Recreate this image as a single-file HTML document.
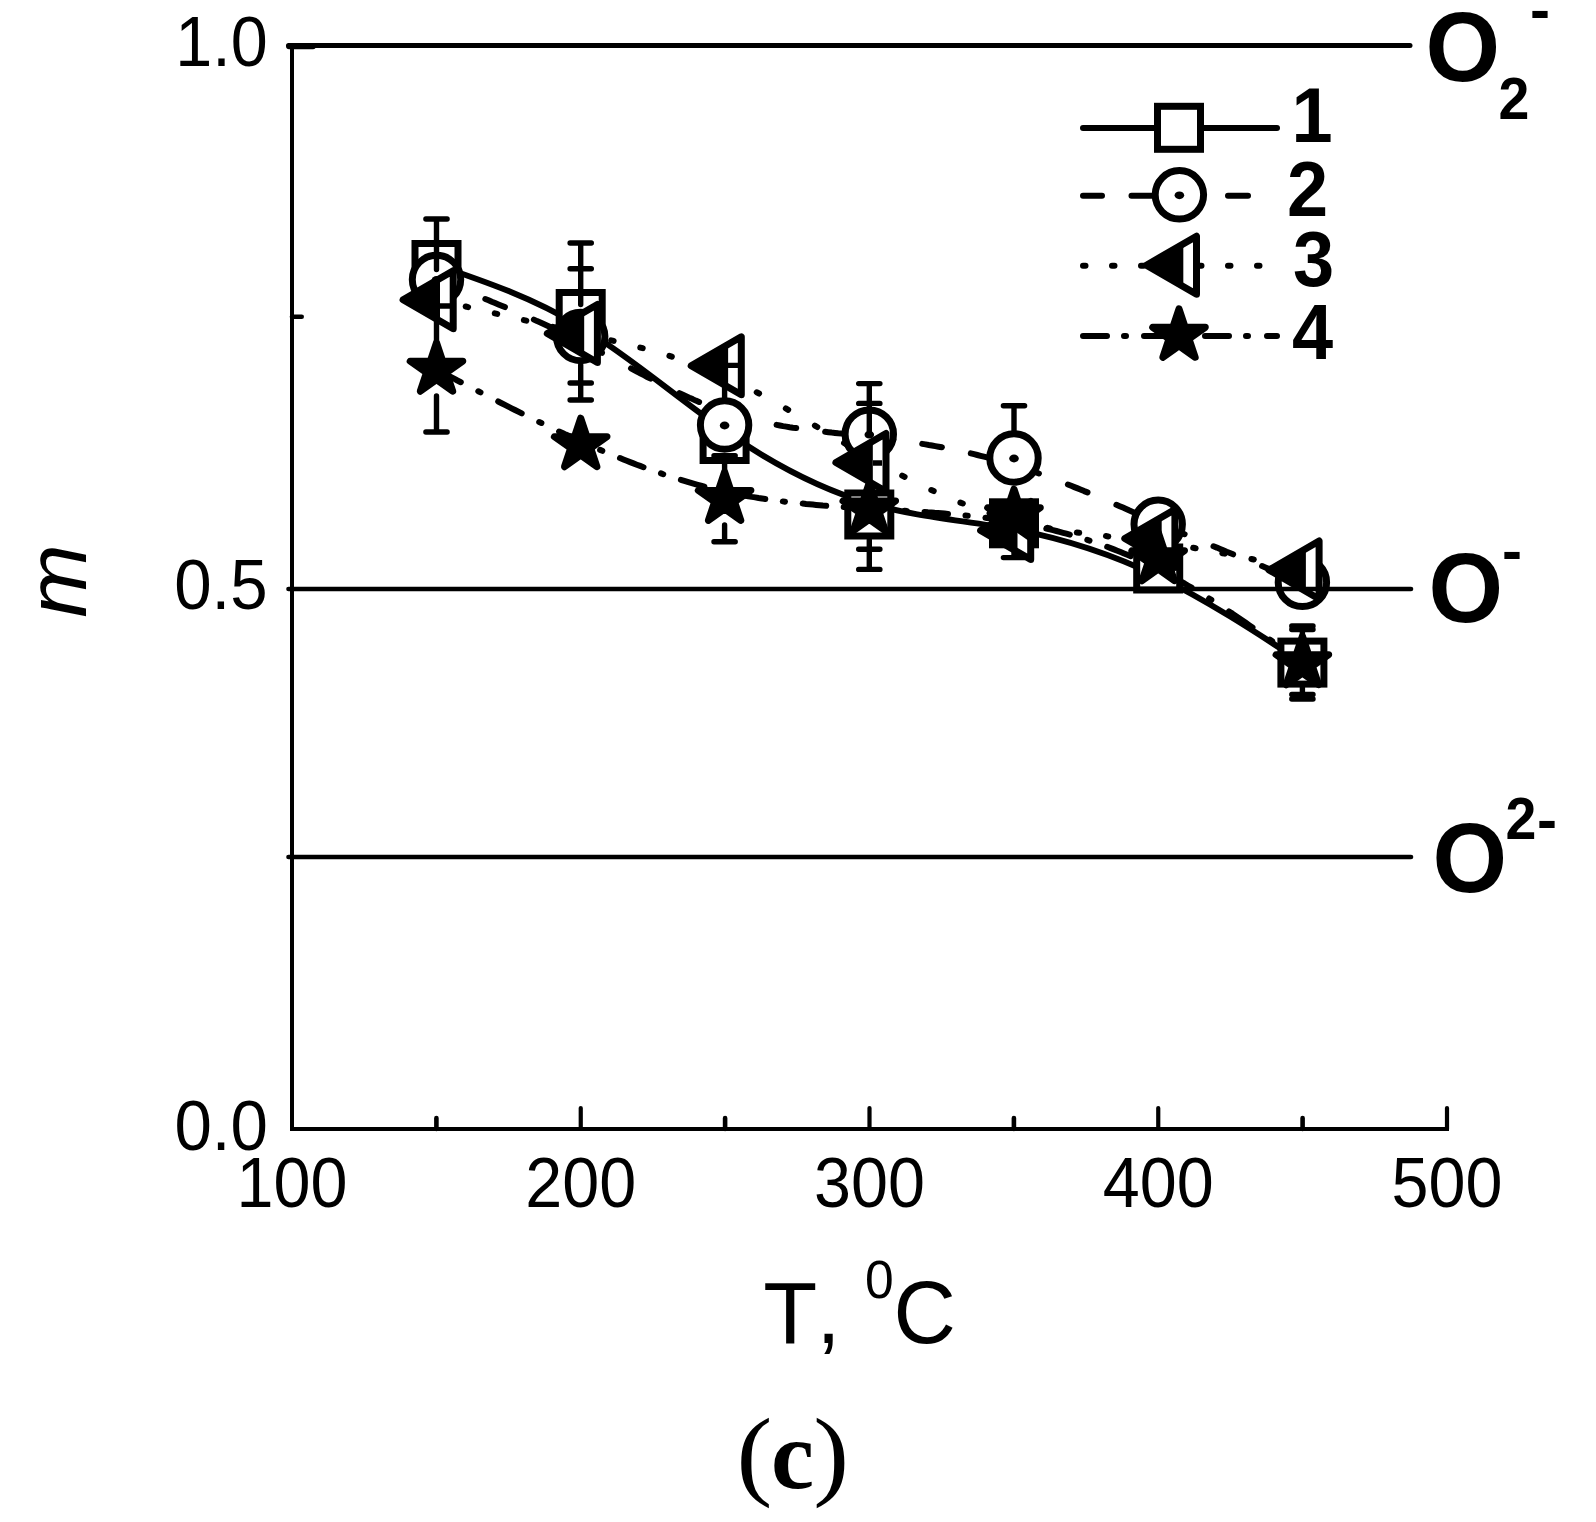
<!DOCTYPE html>
<html lang="en"><head><meta charset="utf-8"><title>m vs T (c)</title>
<style>html,body{margin:0;padding:0;background:#fff}svg{display:block}text{fill:#000}.s{font-family:"Liberation Sans",Arial,Helvetica,sans-serif}.r{font-family:"Liberation Serif","Times New Roman",Times,serif}</style></head><body>
<svg width="1596" height="1522" viewBox="0 0 1596 1522">
<rect width="1596" height="1522" fill="#fff"/>
<g fill="none" stroke="#000">
<path d="M292 45.5 V1131" stroke-width="4"/>
<path d="M290 1129 H1449" stroke-width="4"/>
<path d="M288.5 45.5 H1410" stroke-width="5" stroke-linecap="round"/>
<path d="M288.5 857 H1411" stroke-width="4.6" stroke-linecap="round"/>
<path d="M289 46.5 H313" stroke-width="5.6" stroke-linecap="round"/>
<path d="M292 316.8 H301.7" stroke-width="4.6" stroke-linecap="round"/>
<path d="M580.75 1129 V1108" stroke-width="4.2" stroke-linecap="round"/>
<path d="M869.50 1129 V1108" stroke-width="4.2" stroke-linecap="round"/>
<path d="M1158.25 1129 V1108" stroke-width="4.2" stroke-linecap="round"/>
<path d="M1447.00 1129 V1108" stroke-width="4.2" stroke-linecap="round"/>
<path d="M436.40 1129 V1118" stroke-width="4.6" stroke-linecap="round"/>
<path d="M725.10 1129 V1118" stroke-width="4.6" stroke-linecap="round"/>
<path d="M1013.90 1129 V1118" stroke-width="4.6" stroke-linecap="round"/>
<path d="M1302.60 1129 V1118" stroke-width="4.6" stroke-linecap="round"/>
</g>
<g class="s">
<text transform="translate(267.8 66.0) scale(0.950 1)" font-size="70.0" text-anchor="end">1.0</text>
<text transform="translate(267.6 608.6) scale(0.960 1)" font-size="70.0" text-anchor="end">0.5</text>
<text transform="translate(267.8 1149.6) scale(0.960 1)" font-size="70.0" text-anchor="end">0.0</text>
<text transform="translate(292.0 1206.5) scale(0.950 1)" font-size="70.0" text-anchor="middle">100</text>
<text transform="translate(580.8 1206.5) scale(0.950 1)" font-size="70.0" text-anchor="middle">200</text>
<text transform="translate(869.5 1206.5) scale(0.950 1)" font-size="70.0" text-anchor="middle">300</text>
<text transform="translate(1158.2 1206.5) scale(0.950 1)" font-size="70.0" text-anchor="middle">400</text>
<text transform="translate(1447.0 1206.5) scale(0.950 1)" font-size="70.0" text-anchor="middle">500</text>
</g>
<text class="s" font-size="85.4" font-style="italic" text-anchor="middle" transform="translate(86 581) rotate(-90) scale(1.035 1)">m</text>
<text class="s" font-size="86.2" style="font-kerning:none"><tspan x="763.2" y="1343" textLength="53.97" lengthAdjust="spacingAndGlyphs">T</tspan><tspan x="816.5" y="1343">,</tspan><tspan x="841" y="1343"> </tspan><tspan x="865" y="1298" font-size="54.3" textLength="28.69" lengthAdjust="spacingAndGlyphs">0</tspan><tspan x="893.5" y="1343" font-size="88.6" textLength="62.39" lengthAdjust="spacingAndGlyphs">C</tspan></text>
<text class="r" font-size="99.6"><tspan x="736.5" y="1487.3" textLength="35.82" lengthAdjust="spacingAndGlyphs">(</tspan><tspan x="771" y="1488" font-size="97" font-weight="bold">c</tspan><tspan x="813.3" y="1487.3" textLength="35.82" lengthAdjust="spacingAndGlyphs">)</tspan></text>
<g class="s" font-weight="bold">
<text><tspan x="1425.5" y="81.0" font-size="97.4" textLength="74.60" lengthAdjust="spacingAndGlyphs">O</tspan><tspan x="1498.5" y="119.0" font-size="58.4" textLength="30.87" lengthAdjust="spacingAndGlyphs">2</tspan><tspan x="1530.0" y="30.0" font-size="58.4" textLength="20.04" lengthAdjust="spacingAndGlyphs">-</tspan></text>
<text><tspan x="1428.6" y="622.0" font-size="97.4" textLength="74.60" lengthAdjust="spacingAndGlyphs">O</tspan><tspan x="1502.0" y="570.5" font-size="58.4" textLength="20.04" lengthAdjust="spacingAndGlyphs">-</tspan></text>
<text><tspan x="1432.5" y="892.0" font-size="97.4" textLength="74.60" lengthAdjust="spacingAndGlyphs">O</tspan><tspan x="1505.5" y="839.0" font-size="58.4" textLength="30.87" lengthAdjust="spacingAndGlyphs">2</tspan><tspan x="1537.0" y="839.8" font-size="58.4" textLength="20.04" lengthAdjust="spacingAndGlyphs">-</tspan></text>
</g>
<g fill="none" stroke="#000" stroke-width="6" stroke-linecap="round">
<path d="M1083 128 H1277"/>
<path d="M1083 195.7 H1102 M1131.5 195.7 H1152 M1228 195.7 H1248"/>
<path d="M1083 265.7 h2.5 M1112 265.7 h2.5 M1141 265.7 h2.5 M1199 265.7 h2.5 M1228 265.7 h2.5 M1257 265.7 h2.5"/>
<path d="M1083 336 H1107 M1124 336 h2 M1144 336 H1168 M1205 336 H1229 M1246 336 h2 M1267 336 H1277"/>
</g>
<rect x="1157.5" y="106.3" width="43" height="43" fill="#fff" stroke="#000" stroke-width="7"/>
<circle cx="1179.4" cy="194.8" r="24.2" fill="#fff" stroke="#000" stroke-width="7"/><ellipse cx="1179.4" cy="195.3" rx="4.8" ry="3.9" fill="#000"/>
<path d="M1146.4 265.2 L1196.5 236.2 L1196.5 294.2 Z" fill="#fff" stroke="#000" stroke-width="7" stroke-linejoin="round"/><path d="M1146.4 265.2 L1183.3 243.8 L1183.3 286.6 Z" fill="#000"/>
<path d="M1179.0 308.8 L1185.2 327.3 L1205.3 327.3 L1189.0 338.8 L1195.2 357.3 L1179.0 345.8 L1162.8 357.3 L1169.0 338.8 L1152.7 327.3 L1172.8 327.3 Z" fill="#000" stroke="#000" stroke-width="7" stroke-linejoin="round"/>
<g class="s" font-weight="bold">
<text transform="translate(1291.5 142.0) scale(0.950 1)" font-size="77.9" text-anchor="start">1</text>
<text transform="translate(1287.0 216.0) scale(0.950 1)" font-size="77.9" text-anchor="start">2</text>
<text transform="translate(1293.0 285.5) scale(0.950 1)" font-size="77.9" text-anchor="start">3</text>
<text transform="translate(1292.0 358.7) scale(0.950 1)" font-size="77.9" text-anchor="start">4</text>
</g>
<g fill="none" stroke="#000" stroke-width="6" stroke-linecap="round" stroke-linejoin="round">
<path d="M436.5 265.0 C484.6 281.3 532.6 297.7 580.6 326.7 C628.7 355.7 676.6 397.3 724.7 430.8 C772.8 464.2 821.1 489.3 869.3 503.4 C917.5 517.4 965.8 520.4 1013.9 529.4 C1062.1 538.4 1110.1 553.4 1158.2 576.6 C1206.3 599.9 1254.3 631.2 1302.4 662.6"/>
<path d="M436.8 279.6 L440.0 280.9 L443.3 282.2 L446.6 283.5 L449.8 284.8 L453.1 286.1 L456.4 287.4M485.3 299.0 L488.6 300.3 L491.8 301.7 L495.1 303.0 L498.4 304.4 L501.6 305.7 L504.9 307.1M533.9 319.6 L537.1 321.1 L540.4 322.5 L543.7 324.0 L546.9 325.5 L550.2 327.0 L553.5 328.5M582.4 342.6 L585.7 344.3 L588.9 346.0 L592.2 347.7 L595.5 349.4 L598.7 351.1 L602.0 352.8M631.0 368.3 L634.2 370.0 L637.5 371.8 L640.8 373.5 L644.0 375.2 L647.3 377.0 L650.6 378.7M679.5 393.1 L682.8 394.7 L686.0 396.2 L689.3 397.7 L692.6 399.1 L695.8 400.6 L699.1 402.0M728.0 412.9 L731.3 414.0 L734.6 415.0 L737.8 415.9 L741.1 416.9 L744.4 417.8 L747.6 418.6M776.6 424.9 L779.9 425.5 L783.1 426.1 L786.4 426.6 L789.7 427.2 L792.9 427.7 L796.2 428.1M825.1 431.8 L828.4 432.2 L831.7 432.6 L835.0 432.9 L838.2 433.3 L841.5 433.6 L844.8 434.0M873.7 437.1 L877.0 437.5 L880.2 437.9 L883.5 438.3 L886.8 438.7 L890.0 439.2 L893.3 439.6M922.2 443.9 L925.5 444.4 L928.8 445.0 L932.0 445.5 L935.3 446.1 L938.6 446.7 L941.9 447.3M970.8 453.4 L974.1 454.2 L977.3 455.0 L980.6 455.8 L983.9 456.6 L987.1 457.4 L990.4 458.3M1019.3 466.8 L1022.6 467.8 L1025.9 468.9 L1029.1 470.0 L1032.4 471.2 L1035.7 472.3 L1038.9 473.5M1067.9 484.5 L1071.2 485.8 L1074.4 487.1 L1077.7 488.4 L1081.0 489.7 L1084.2 491.1 L1087.5 492.4M1116.4 504.8 L1119.7 506.2 L1123.0 507.6 L1126.2 509.0 L1129.5 510.5 L1132.8 511.9 L1136.0 513.3M1165.0 525.9 L1168.3 527.3 L1171.5 528.7 L1174.8 530.0 L1178.1 531.4 L1181.3 532.8 L1184.6 534.2M1213.5 546.3 L1216.8 547.6 L1220.1 549.0 L1223.3 550.3 L1226.6 551.7 L1229.9 553.0 L1233.1 554.3M1262.1 566.1 L1265.4 567.5 L1268.6 568.8 L1271.9 570.1 L1275.2 571.4 L1278.4 572.7 L1281.7 574.1"/>
<path d="M436.6 299.7 L439.0 300.3M465.7 306.5 L468.1 307.1M494.8 313.3 L497.2 313.9M523.9 320.1 L526.3 320.7M553.0 326.9 L555.4 327.4M582.1 333.6 L584.5 334.1M611.2 340.3 L613.6 340.9M640.3 347.6 L642.7 348.2M669.4 355.9 L671.8 356.7M698.5 365.8 L700.9 366.7M727.6 377.9 L730.0 379.0M756.7 392.3 L759.1 393.5M785.8 408.4 L788.2 409.8M814.9 425.6 L817.3 427.0M844.0 443.0 L846.4 444.4M873.1 459.9 L875.5 461.2M902.2 475.6 L904.6 476.9M931.3 490.0 L933.7 491.1M960.4 502.6 L962.8 503.5M989.5 513.2 L991.9 514.0M1018.6 521.7 L1021.0 522.3M1047.7 527.9 L1050.1 528.4M1076.8 532.5 L1079.2 532.8M1105.9 536.1 L1108.3 536.4M1135.0 539.5 L1137.4 539.8M1164.1 543.2 L1166.5 543.6M1193.2 547.8 L1195.6 548.3M1222.3 553.2 L1224.7 553.6M1251.4 559.0 L1253.8 559.5M1280.5 565.2 L1282.9 565.7"/>
<path d="M437.3 369.9 L440.7 371.7 L444.0 373.4 L447.4 375.2 L450.7 376.9 L454.1 378.7 L457.4 380.5 L460.8 382.2M478.3 391.3 L480.5 392.4M498.2 401.5 L501.6 403.2 L504.9 404.9 L508.3 406.6 L511.6 408.3 L515.0 410.0 L518.3 411.7 L521.7 413.4M539.2 422.0 L541.4 423.0M559.1 431.5 L562.5 433.0 L565.8 434.6 L569.2 436.1 L572.5 437.7 L575.9 439.2 L579.2 440.7 L582.6 442.2M600.1 449.9 L602.3 450.8M620.0 458.1 L623.4 459.5 L626.7 460.8 L630.1 462.1 L633.4 463.4 L636.8 464.7 L640.1 465.9 L643.5 467.2M661.0 473.4 L663.2 474.2M680.9 479.9 L684.3 480.9 L687.6 481.9 L691.0 482.9 L694.3 483.8 L697.7 484.8 L701.0 485.7 L704.4 486.6M721.9 490.9 L724.1 491.4M741.8 495.0 L745.2 495.7 L748.5 496.3 L751.9 496.9 L755.2 497.4 L758.6 498.0 L761.9 498.5 L765.3 499.0M782.8 501.4 L785.0 501.7M802.7 503.6 L806.1 504.0 L809.4 504.3 L812.8 504.6 L816.1 504.9 L819.5 505.2 L822.8 505.5 L826.2 505.7M843.7 507.0 L845.9 507.2M863.6 508.3 L867.0 508.5 L870.3 508.7 L873.7 508.9 L877.0 509.1 L880.4 509.3 L883.7 509.5 L887.1 509.7M904.6 510.7 L906.8 510.9M924.5 512.0 L927.9 512.3 L931.2 512.5 L934.6 512.8 L937.9 513.0 L941.3 513.3 L944.6 513.6 L948.0 513.9M965.5 515.5 L967.7 515.7M985.4 517.8 L988.8 518.2 L992.1 518.7 L995.5 519.2 L998.8 519.6 L1002.2 520.1 L1005.5 520.7 L1008.9 521.2M1026.4 524.3 L1028.6 524.8M1046.3 528.6 L1049.7 529.4 L1053.0 530.2 L1056.4 531.0 L1059.7 531.9 L1063.1 532.8 L1066.4 533.7 L1069.8 534.6M1087.3 539.9 L1089.5 540.6M1107.2 546.8 L1110.6 548.1 L1113.9 549.4 L1117.3 550.7 L1120.6 552.0 L1124.0 553.4 L1127.3 554.8 L1130.7 556.2M1148.2 564.2 L1150.4 565.3M1168.1 574.4 L1171.5 576.2 L1174.8 578.0 L1178.2 579.9 L1181.5 581.8 L1184.9 583.7 L1188.2 585.7 L1191.6 587.7M1209.1 598.5 L1211.3 599.9M1229.0 611.4 L1232.4 613.6 L1235.7 615.9 L1239.1 618.2 L1242.4 620.5 L1245.8 622.8 L1249.1 625.1 L1252.5 627.4M1270.0 639.7 L1272.2 641.3M1289.9 654.0 L1293.0 656.2 L1296.2 658.5 L1299.3 660.7 L1302.4 663.0"/>
</g>
<path d="M436.5 306.0 V345.0" fill="none" stroke="#000" stroke-width="5.4" stroke-linecap="round"/>
<path d="M724.6 385.0 V470.0" fill="none" stroke="#000" stroke-width="5.4" stroke-linecap="round"/>
<rect x="415.0" y="243.5" width="43" height="43" fill="#fff" stroke="#000" stroke-width="7"/>
<rect x="559.2" y="292.5" width="43" height="43" fill="#fff" stroke="#000" stroke-width="7"/>
<rect x="703.1" y="417.5" width="43" height="43" fill="#fff" stroke="#000" stroke-width="7"/>
<rect x="847.8" y="493.0" width="43" height="43" fill="#fff" stroke="#000" stroke-width="7"/>
<rect x="992.5" y="501.8" width="43" height="43" fill="#fff" stroke="#000" stroke-width="7"/>
<rect x="1136.7" y="547.0" width="43" height="43" fill="#fff" stroke="#000" stroke-width="7"/>
<rect x="1280.9" y="641.1" width="43" height="43" fill="#fff" stroke="#000" stroke-width="7"/>
<circle cx="436.5" cy="279.5" r="24.2" fill="#fff" stroke="#000" stroke-width="7"/><ellipse cx="436.5" cy="280.0" rx="4.8" ry="3.9" fill="#000"/>
<circle cx="580.7" cy="336.5" r="24.2" fill="#fff" stroke="#000" stroke-width="7"/><ellipse cx="580.7" cy="337.0" rx="4.8" ry="3.9" fill="#000"/>
<circle cx="724.6" cy="425.0" r="24.2" fill="#fff" stroke="#000" stroke-width="7"/><ellipse cx="724.6" cy="425.5" rx="4.8" ry="3.9" fill="#000"/>
<circle cx="869.3" cy="434.2" r="24.2" fill="#fff" stroke="#000" stroke-width="7"/><ellipse cx="869.3" cy="434.7" rx="4.8" ry="3.9" fill="#000"/>
<circle cx="1014.0" cy="458.0" r="24.2" fill="#fff" stroke="#000" stroke-width="7"/><ellipse cx="1014.0" cy="458.5" rx="4.8" ry="3.9" fill="#000"/>
<circle cx="1158.2" cy="524.3" r="24.2" fill="#fff" stroke="#000" stroke-width="7"/><ellipse cx="1158.2" cy="524.8" rx="4.8" ry="3.9" fill="#000"/>
<circle cx="1302.4" cy="582.4" r="24.2" fill="#fff" stroke="#000" stroke-width="7"/><ellipse cx="1302.4" cy="582.9" rx="4.8" ry="3.9" fill="#000"/>
<path d="M403.1 299.7 L453.2 270.7 L453.2 328.7 Z" fill="#fff" stroke="#000" stroke-width="7" stroke-linejoin="round"/><path d="M403.1 299.7 L440.0 278.3 L440.0 321.1 Z" fill="#000"/>
<path d="M547.3 333.5 L597.4 304.5 L597.4 362.5 Z" fill="#fff" stroke="#000" stroke-width="7" stroke-linejoin="round"/><path d="M547.3 333.5 L584.2 312.1 L584.2 354.9 Z" fill="#000"/>
<path d="M691.2 365.8 L741.3 336.8 L741.3 394.8 Z" fill="#fff" stroke="#000" stroke-width="7" stroke-linejoin="round"/><path d="M691.2 365.8 L728.1 344.4 L728.1 387.2 Z" fill="#000"/>
<path d="M835.9 462.5 L886.0 433.5 L886.0 491.5 Z" fill="#fff" stroke="#000" stroke-width="7" stroke-linejoin="round"/><path d="M835.9 462.5 L872.8 441.1 L872.8 483.9 Z" fill="#000"/>
<path d="M980.6 530.5 L1030.7 501.5 L1030.7 559.5 Z" fill="#fff" stroke="#000" stroke-width="7" stroke-linejoin="round"/><path d="M980.6 530.5 L1017.5 509.1 L1017.5 551.9 Z" fill="#000"/>
<path d="M1124.8 538.5 L1174.9 509.5 L1174.9 567.5 Z" fill="#fff" stroke="#000" stroke-width="7" stroke-linejoin="round"/><path d="M1124.8 538.5 L1161.7 517.1 L1161.7 559.9 Z" fill="#000"/>
<path d="M1269.0 570.0 L1319.1 541.0 L1319.1 599.0 Z" fill="#fff" stroke="#000" stroke-width="7" stroke-linejoin="round"/><path d="M1269.0 570.0 L1305.9 548.6 L1305.9 591.4 Z" fill="#000"/>
<path d="M436.5 342.7 L442.7 361.2 L462.8 361.2 L446.5 372.7 L452.7 391.2 L436.5 379.7 L420.3 391.2 L426.5 372.7 L410.2 361.2 L430.3 361.2 Z" fill="#000" stroke="#000" stroke-width="7" stroke-linejoin="round"/>
<path d="M580.7 418.2 L586.9 436.7 L607.0 436.7 L590.7 448.2 L596.9 466.7 L580.7 455.2 L564.5 466.7 L570.7 448.2 L554.4 436.7 L574.5 436.7 Z" fill="#000" stroke="#000" stroke-width="7" stroke-linejoin="round"/>
<path d="M724.6 471.9 L730.8 490.4 L750.9 490.4 L734.6 501.9 L740.8 520.4 L724.6 508.9 L708.4 520.4 L714.6 501.9 L698.3 490.4 L718.4 490.4 Z" fill="#000" stroke="#000" stroke-width="7" stroke-linejoin="round"/>
<path d="M869.3 482.5 L875.5 501.0 L895.6 501.0 L879.3 512.5 L885.5 531.0 L869.3 519.5 L853.1 531.0 L859.3 512.5 L843.0 501.0 L863.1 501.0 Z" fill="#000" stroke="#000" stroke-width="7" stroke-linejoin="round"/>
<path d="M1014.0 489.2 L1020.2 507.7 L1040.3 507.7 L1024.0 519.2 L1030.2 537.7 L1014.0 526.2 L997.8 537.7 L1004.0 519.2 L987.7 507.7 L1007.8 507.7 Z" fill="#000" stroke="#000" stroke-width="7" stroke-linejoin="round"/>
<path d="M1158.2 532.2 L1164.4 550.7 L1184.5 550.7 L1168.2 562.2 L1174.4 580.7 L1158.2 569.2 L1142.0 580.7 L1148.2 562.2 L1131.9 550.7 L1152.0 550.7 Z" fill="#000" stroke="#000" stroke-width="7" stroke-linejoin="round"/>
<path d="M1302.4 636.2 L1308.6 654.7 L1328.7 654.7 L1312.4 666.2 L1318.6 684.7 L1302.4 673.2 L1286.2 684.7 L1292.4 666.2 L1276.1 654.7 L1296.2 654.7 Z" fill="#000" stroke="#000" stroke-width="7" stroke-linejoin="round"/>
<path d="M436.5 219.0 V269.5 M425.9 219.0 H447.1" fill="none" stroke="#000" stroke-width="5.4" stroke-linecap="round"/>
<path d="M436.5 396.0 V432.0 M425.9 432.0 H447.1" fill="none" stroke="#000" stroke-width="5.4" stroke-linecap="round"/>
<path d="M580.7 243.0 V304.5 M570.1 243.0 H591.3" fill="none" stroke="#000" stroke-width="5.4" stroke-linecap="round"/>
<path d="M580.7 268.8 V268.8 M570.1 268.8 H591.3" fill="none" stroke="#000" stroke-width="5.4" stroke-linecap="round"/>
<path d="M580.7 365.0 V400.0 M570.1 400.0 H591.3" fill="none" stroke="#000" stroke-width="5.4" stroke-linecap="round"/>
<path d="M580.7 383.0 V383.0 M570.1 383.0 H591.3" fill="none" stroke="#000" stroke-width="5.4" stroke-linecap="round"/>
<path d="M724.6 525.0 V541.7 M714.0 541.7 H735.2" fill="none" stroke="#000" stroke-width="5.4" stroke-linecap="round"/>
<path d="M724.6 455.7 V455.7 M714.0 455.7 H735.2" fill="none" stroke="#000" stroke-width="5.4" stroke-linecap="round"/>
<path d="M869.3 383.6 V432.0 M858.7 383.6 H879.9" fill="none" stroke="#000" stroke-width="5.4" stroke-linecap="round"/>
<path d="M869.3 403.4 V403.4 M858.7 403.4 H879.9" fill="none" stroke="#000" stroke-width="5.4" stroke-linecap="round"/>
<path d="M869.3 540.0 V569.4 M858.7 569.4 H879.9" fill="none" stroke="#000" stroke-width="5.4" stroke-linecap="round"/>
<path d="M869.3 549.2 V549.2 M858.7 549.2 H879.9" fill="none" stroke="#000" stroke-width="5.4" stroke-linecap="round"/>
<path d="M1014.0 405.7 V431.0 M1003.4 405.7 H1024.6" fill="none" stroke="#000" stroke-width="5.4" stroke-linecap="round"/>
<path d="M1014.0 549.0 V557.6 M1003.4 557.6 H1024.6" fill="none" stroke="#000" stroke-width="5.4" stroke-linecap="round"/>
<path d="M1302.4 626.0 V638.0 M1291.8 626.0 H1313.0" fill="none" stroke="#000" stroke-width="5.4" stroke-linecap="round"/>
<path d="M1302.4 629.5 V629.5 M1291.8 629.5 H1313.0" fill="none" stroke="#000" stroke-width="5.4" stroke-linecap="round"/>
<path d="M1302.4 687.0 V699.0 M1291.8 699.0 H1313.0" fill="none" stroke="#000" stroke-width="5.4" stroke-linecap="round"/>
<path d="M1302.4 694.5 V694.5 M1291.8 694.5 H1313.0" fill="none" stroke="#000" stroke-width="5.4" stroke-linecap="round"/>
<path d="M439 306 H450 M727 365.4 H738 M873 463 H882" fill="none" stroke="#000" stroke-width="5.4"/>
<path d="M288.5 589 H1411" fill="none" stroke="#000" stroke-width="4.6" stroke-linecap="round"/>
</svg></body></html>
